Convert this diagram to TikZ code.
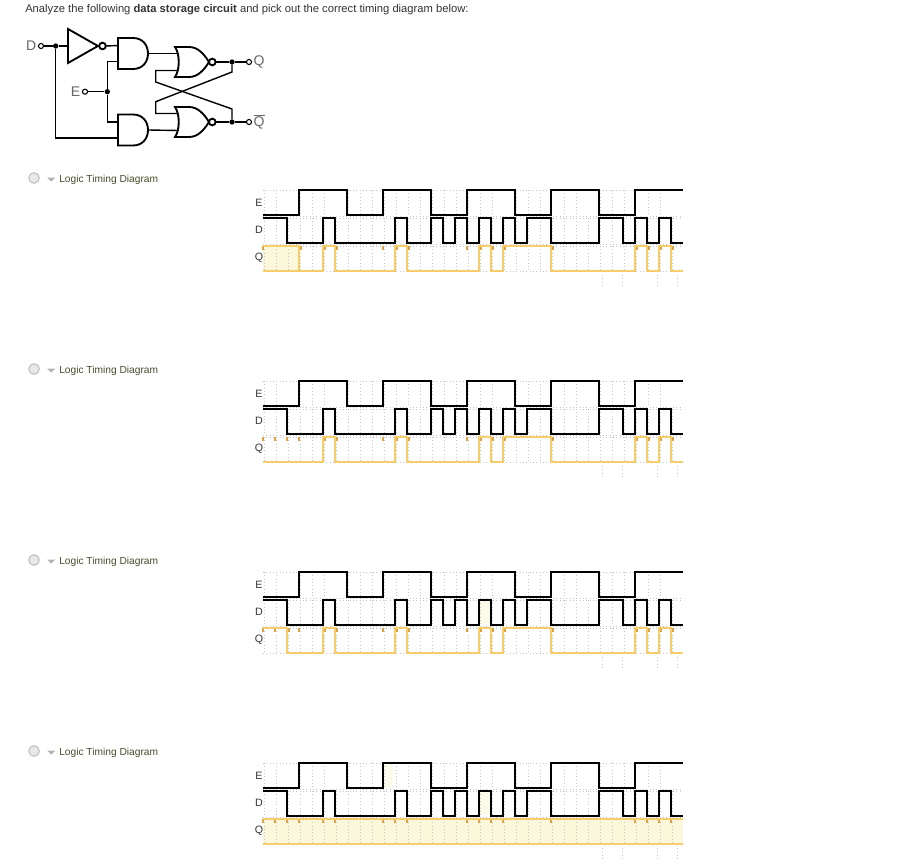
\documentclass[tikz,border=0pt]{standalone}
\usepackage{fontspec}
\setmainfont{Liberation Sans}
\usepackage{tikz}

\definecolor{wavegold}{HTML}{F6CD6A}
\definecolor{markgold}{HTML}{D8A445}
\definecolor{wavefill}{HTML}{FAF7DA}
\definecolor{gridgray}{HTML}{C6C6C6}
\definecolor{labelolive}{HTML}{4A4A2C}

\tikzset{
    gatedraw/.style={draw, line width=1.4pt, line join=miter, fill=white},
    wire/.style={line width=1.05pt},
    terminal/.style={circle, draw, line width=0.8pt, fill=white, inner sep=0pt, minimum size=3.8pt},
    junction/.style={circle, fill=black, inner sep=0pt, minimum size=4pt},
    pinlabel/.style={text=black!60, inner sep=1pt, font=\fontsize{10.5}{12}\selectfont},
    wave/.style={line width=1.5pt, line join=miter},
    goldwave/.style={line width=1.7pt, draw=wavegold},
    griddot/.style={gridgray, line width=0.5pt, dotted},
    rowlabel/.style={font=\fontsize{8}{9}\selectfont, text=black!80},
    choicelabel/.style={font=\fontsize{7.65}{9}\selectfont, text=labelolive, anchor=west, inner sep=0pt},
    andgate/.pic={
        \draw[gatedraw] (-15,-15.5) -- (0,-15.5) .. controls (10,-15.5) and (15,-8) .. (15,0)
            .. controls (15,8) and (10,15.5) .. (0,15.5) -- (-15,15.5) -- cycle;
        \coordinate (-in1) at (-15,-8);
        \coordinate (-in2) at (-15,8);
        \coordinate (-out) at (15,0);
    },
    norgate/.pic={
        \draw[gatedraw] (-17,-15) -- (-3,-15) .. controls (6,-15) and (12,-8) .. (17,0)
            .. controls (12,8) and (6,15) .. (-3,15) -- (-17,15)
            .. controls (-12,8) and (-12,-8) .. (-17,-15) -- cycle;
        \draw[gatedraw] (20.3,0) circle (2.5pt);
        \coordinate (-in1) at (-13.6,-8.5);
        \coordinate (-in2) at (-13.6,8.5);
        \coordinate (-out) at (23.6,0);
    },
    notgate/.pic={
        \draw[gatedraw] (-15,-17) -- (15,0) -- (-15,17) -- cycle;
        \draw[gatedraw] (19.5,0) circle (2.5pt);
        \coordinate (-in) at (-15,0);
        \coordinate (-out) at (23,0);
    },
}

\newcommand{\qcommon}{(5,81) |- (6,56) |- (11,81) |- (12,56) |- (18,81) |- (19,56) |- (20,81) |- (24,56) |- (31,81) |- (32,56) |- (33,81) |- (34,56) |- (35,81)}
\newcommand{\marktail}{5.14,6.14,10,11.14,12.14,17,18.14,19.14,20.14,24.14,31.14,32.14,33.14,34.14}

% grid, E and D of one chart
\newcommand{\chartbase}[1]{
    \foreach \k in {0,1,3,4,5,7,8,...,19,21,22,23,25,26,28,29,30,32,33}
        \draw[griddot] (\k+0.12,0) -- (\k+0.12,25);
    \foreach \k in {0,1,...,34}{
        \draw[griddot] (\k+0.12,28) -- (\k+0.12,53);
        \draw[griddot] (\k+0.12,56) -- (\k+0.12,81);
    }
    \foreach \ytop in {0,26,28,54,56,81}
        \draw[griddot] (0,\ytop) -- (35,\ytop);
    \foreach \k in {28.25,29.92,32.83,34.5}
        \draw[griddot] (\k,85) -- (\k,96);
    \draw[wave] (0,25) -| (3,0) -| (7,25) -| (10,0) -| (14,25) -| (17,0) -| (21,25) -| (24,0) -| (28,25) -| (31,0) -- (35,0);
    \draw[wave] (0,28) -| (2,53) -| (5,28) -| (6,53) -| (11,28) -| (12,53) -| (14,28) -| (15,53) -| (16,28) -| (17,53) -| (18,28) -| (19,53) -| (20,28) -| (21,53) -| (22,28) -| (24,53) -| (28,28) -| (30,53) -| (31,28) -| (32,53) -| (33,28) -| (34,53) -- (35,53);
    \node[rowlabel] at (-0.33,12.5) {E};
    \node[rowlabel] at (-0.33,39.5) {D};
    \node[rowlabel] at (-0.33,67.5) {Q};
    \node[choicelabel] at (-17,-10) {Logic Timing Diagram};
    \fill[gray!60] (-18,-12.5) -- (-17.3,-12.5) -- (-17.65,-8.5) -- cycle;
    \draw[gray!60, fill=gray!18, line width=0.6pt] (-19.08,-12) circle (4pt);
    \edef\marklist{#1}
    \foreach \k in \marklist
        \fill[markgold] (\k-0.12,56) rectangle +(0.24,3.5);
}

\begin{document}
\begin{tikzpicture}[x=0.75pt, y=-0.75pt]
\useasboundingbox (0,0) rectangle (898,863);

\node[anchor=west, inner sep=0pt, font=\fontsize{8.4}{10}\selectfont, text=black!80] (title) at (25,9.5)
    {Analyze the following \textbf{data storage circuit} and pick out the correct timing diagram below:};

% circuit
\pic (inv) at (83,46) {notgate};
\pic (and1) at (133,53.5) {andgate};
\pic (and2) at (133,130) {andgate};
\pic (nor1) at (192,62) {norgate};
\pic (nor2) at (192,122) {norgate};
\node[terminal] (tD) at (41,46) {};
\node[pinlabel, left=0pt] (lD) at (tD.west) {D};
\node[junction] (jD) at (55.7,46) {};
\node[terminal] (tE) at (85,91.7) {};
\node[pinlabel, left=0pt] (lE) at (tE.west) {E};
\node[junction] (jE) at (107.3,91.7) {};
\node[junction] (jQ) at (232,62) {};
\node[junction] (jN) at (232,122) {};
\node[terminal] (tQ) at (249,62) {};
\node[terminal] (tN) at (249,122) {};
\node[pinlabel, right=0pt] (lQ) at (tQ.east) {Q};
\node[pinlabel, right=0pt] (lN) at (tN.east) {$\overline{\mbox{Q}}$};
\coordinate (c1) at (155.7,70.5);
\coordinate (c2) at (155.7,82);
\coordinate (c3) at (232,109);
\coordinate (c4) at (232,72);
\coordinate (c5) at (155.7,101.7);
\coordinate (c6) at (155.7,113.5);

\draw[wire] (tD) -- (jD) -- (inv-in);
\draw[wire] (inv-out) -- (and1-in1);
\draw[wire] (jD) |- (and2-in2);
\draw[wire] (tE) -- (jE);
\draw[wire] (and1-in2) -| (jE) |- (and2-in1);
\draw[wire] (and1-out) -- (nor1-in1);
\draw[wire] (and2-out) -- (nor2-in2);
\draw[wire] (nor1-out) -- (jQ) -- (tQ);
\draw[wire] (nor2-out) -- (jN) -- (tN);
\draw[wire] (nor1-in2) -- (c1) -- (c2) -- (c3) -- (jN);
\draw[wire] (jQ) -- (c4) -- (c5) -- (c6) -- (nor2-in1);

% first chart
\begin{scope}[shift={(263,190)}, x=9pt]
    \fill[wavefill] (0,56) rectangle (3,81);
    \chartbase{0,3.14,\marktail}
    \draw[goldwave] (0,56) -| (3,81);
    \draw[goldwave] (0,81) -- \qcommon;
\end{scope}

% second chart
\begin{scope}[shift={(263,381)}, x=9pt]
    \chartbase{0,1,2,3,\marktail}
    \draw[goldwave] (0,81) -- \qcommon;
\end{scope}

% third chart
\begin{scope}[shift={(263,572)}, x=9pt]
    \fill[wavefill!60] (18.1,29) rectangle (18.9,52);
    \chartbase{0,1,2.17,3,\marktail}
    \draw[goldwave] (0,56) -| (2,81) -- \qcommon;
\end{scope}

% fourth chart
\begin{scope}[shift={(263,763)}, x=9pt]
    \fill[wavefill] (0,56) rectangle (35,81);
    \fill[wavefill!60] (10.2,1) rectangle (10.8,24);
    \fill[wavefill!60] (18.1,29) rectangle (18.9,52);
    \chartbase{0,1,2,3,5,6,10,11,12,17,18,19,20,24,31,32,33,34}
    \draw[goldwave] (0,56) -- (35,56);
    \draw[goldwave] (0,81) -- (35,81);
\end{scope}
\end{tikzpicture}
\end{document}
